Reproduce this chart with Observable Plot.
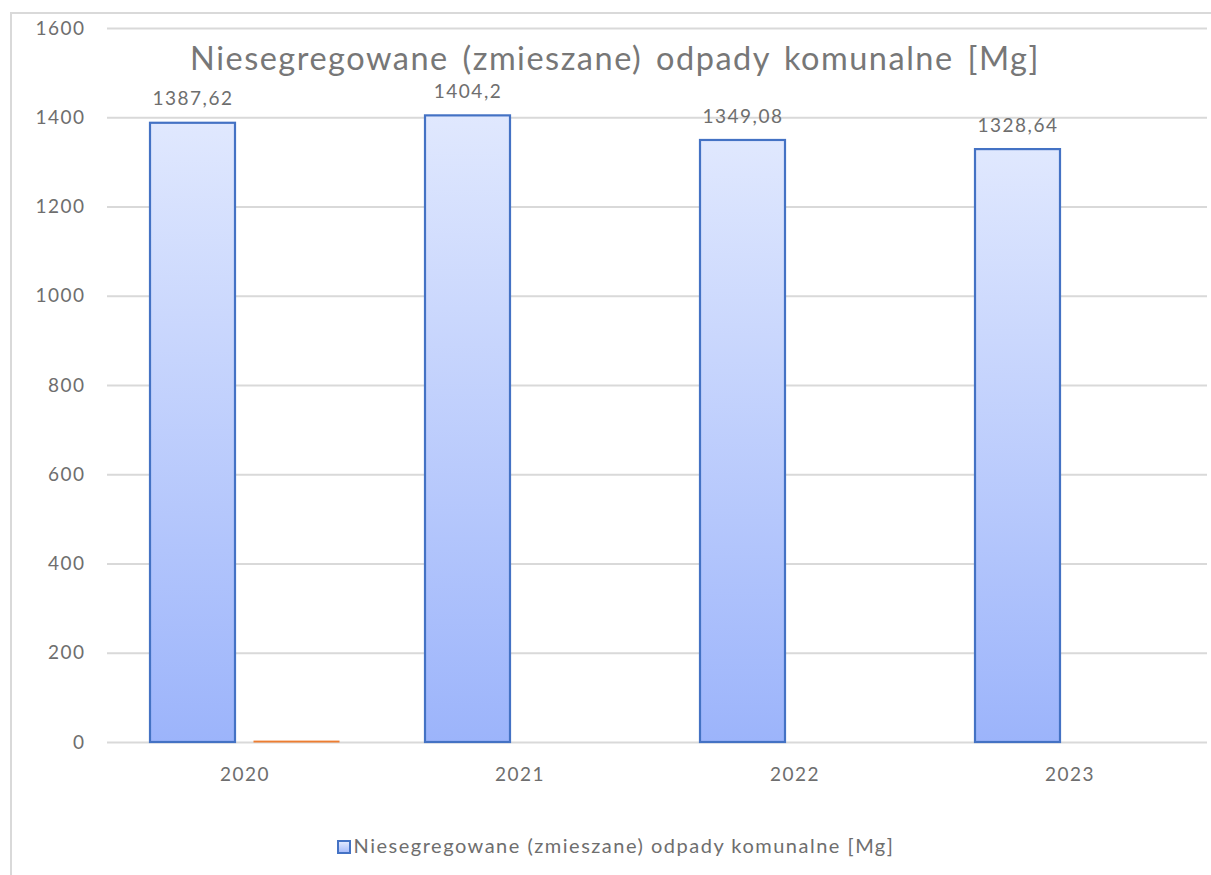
<!DOCTYPE html>
<html><head><meta charset="utf-8">
<script src="https://cdn.jsdelivr.net/npm/d3@7"></script>
<script src="https://cdn.jsdelivr.net/npm/@observablehq/plot@0.6"></script>
<style>
html,body{margin:0;padding:0;background:#fff;}
#wrap{position:relative;width:1211px;height:875px;overflow:hidden;font-family:Lato,sans-serif;}
#frame{position:absolute;left:9.5px;top:12px;width:1300px;height:1000px;border-left:2.5px solid #d9d9d9;border-top:2px solid #d9d9d9;}
#chart{position:absolute;left:0;top:0;}
#title{position:absolute;left:0;width:1230px;top:38px;text-align:center;font-size:32.5px;line-height:40px;color:#777;letter-spacing:1.5px;word-spacing:4px;white-space:nowrap;}
#legend{position:absolute;left:0;width:1231px;top:832px;text-align:center;font-size:20px;line-height:26px;color:#6e6e6e;white-space:nowrap;letter-spacing:1.5px;}
#legend .sw{display:inline-block;width:10px;height:10px;border:2px solid #4472c4;background:linear-gradient(#e0e8fe,#a8bdfb);vertical-align:-1px;margin-right:3px;}
</style></head>
<body><div id="wrap"><div id="frame"></div><div id="chart"></div>
<div id="title"></div><div id="legend"></div></div>
<script>
const years = ["2020", "2021", "2022", "2023"];
const seriesName = "Niesegregowane (zmieszane) odpady komunalne [Mg]";
const mixedWaste = [1387.62, 1404.2, 1349.08, 1328.64];
const otherSeries = [2, null, null, null];
const yTicks = [0, 200, 400, 600, 800, 1000, 1200, 1400, 1600];

const blue = years.map((year, i) => ({year, series: "A", value: mixedWaste[i]}));
const orange = years.map((year, i) => ({year, series: "B", value: otherSeries[i]})).filter(d => d.value != null);
const fmt = v => String(v).replace(".", ",");

const plot = Plot.plot({
  width: 1211, height: 875,
  marginLeft: 105, marginRight: 3, marginTop: 28, marginBottom: 133,
  style: {fontFamily: "Lato, sans-serif", fontSize: "19px", color: "#6e6e6e", background: "transparent"},
  fx: {domain: years, padding: 0, label: null, axis: "bottom", tickSize: 0, tickPadding: 25},
  x: {domain: ["A", "B"], paddingInner: 0.18, paddingOuter: 0.4, axis: null},
  y: {domain: [0, 1600], ticks: yTicks, tickSize: 0, tickPadding: 22, label: null, tickFormat: d => String(d)},
  marks: [
    Plot.gridY(yTicks, {stroke: "#d9d9d9", strokeOpacity: 1, strokeWidth: 2}),
    Plot.barY(blue, {fx: "year", x: "series", y: "value", fill: "url(#gBlue)", stroke: "#4472c4", strokeWidth: 2.2}),
    Plot.barY(orange, {fx: "year", x: "series", y: "value", fill: "#f4a46e", stroke: "#ed7d31", strokeWidth: 1}),
    Plot.text(blue, {fx: "year", x: "series", y: "value", text: d => fmt(d.value), dy: -24, lineAnchor: "middle", fill: "#6e6e6e", fontSize: 19})
  ]
});

const svg = d3.select(plot);
const defs = svg.insert("defs", ":first-child");
const g = defs.append("linearGradient").attr("id", "gBlue").attr("x1", 0).attr("y1", 0).attr("x2", 0).attr("y2", 1);
g.append("stop").attr("offset", "0%").attr("stop-color", "#e0e8fe");
g.append("stop").attr("offset", "100%").attr("stop-color", "#9cb4fb");
svg.selectAll("text").style("letter-spacing", "1.5px");

document.getElementById("chart").appendChild(plot);
document.getElementById("title").textContent = seriesName;
document.getElementById("legend").innerHTML = '<span class="sw"></span>' + seriesName;
</script>
</body></html>
